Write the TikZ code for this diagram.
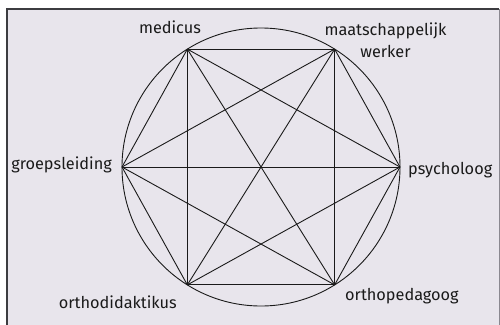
\documentclass[tikz,border=0pt]{standalone}
\usepackage{fontspec}
\setmainfont{Fira Sans}
\usepackage{tikz}
\definecolor{ink}{HTML}{1A1A1A}
\definecolor{panel}{HTML}{E8E5EC}
\definecolor{frame}{HTML}{3C3C40}
\definecolor{frameside}{HTML}{8A8890}

\begin{document}
\begin{tikzpicture}[x=1pt,y=1pt,
  every node/.style={font=\fontsize{16.3}{22.5}\selectfont,color=ink,inner sep=0pt},
  edge/.style={ink,line width=0.9pt}]
\useasboundingbox (-261,-157) rectangle (239,167);
\fill[panel] (-253.5,-160) rectangle (238,157.5);
\draw[frame,line width=2pt] (-253.5,-160) -- (-253.5,157.5) -- (238,157.5);
\draw[frameside,line width=0.9pt] (238,157.5) -- (238,-160);
\def\r{139}
\draw[edge] (0,0) circle (\r);
% the six roles on the circle
\foreach \i/\a in {1/122, 2/58, 3/0, 4/-58, 5/-122, 6/180}
  \coordinate (v\i) at (\a:\r);
% everyone linked to everyone
\foreach \i in {1,...,5}{
  \pgfmathtruncatemacro\k{\i+1}
  \foreach \j in {\k,...,6}
    \draw[edge] (v\i) -- (v\j);
}
\node[anchor=base] (medicus) at (-91,133) {medicus};
\node[anchor=base,align=center] (werker) at (124.5,109) {maatschappelijk\\werker};
\node[anchor=base west] (psycholoog) at (147,-7) {psycholoog};
\node[anchor=base west] (orthopedagoog) at (84,-133) {orthopedagoog};
\node[anchor=base east] (orthodidaktikus) at (-84,-141) {orthodidaktikus};
\node[anchor=base east] (groepsleiding) at (-149,-2) {groepsleiding};
\end{tikzpicture}
\end{document}
